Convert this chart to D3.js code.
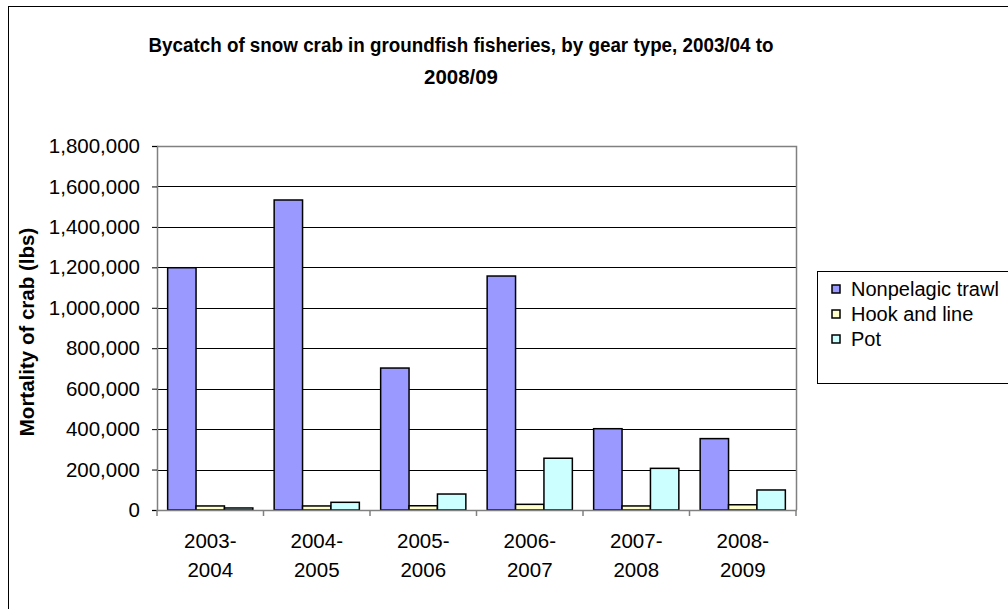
<!DOCTYPE html>
<html><head><meta charset="utf-8">
<script src="https://cdn.jsdelivr.net/npm/d3@7"></script>
<style>body{margin:0;background:#fff}svg{display:block;font-family:"Liberation Sans",Arial,sans-serif}</style>
</head><body><svg id="c" width="1008" height="609"></svg>
<script>
const categories = [["2003-","2004"],["2004-","2005"],["2005-","2006"],["2006-","2007"],["2007-","2008"],["2008-","2009"]];
const seriesNames = ["Nonpelagic trawl","Hook and line","Pot"];
const nonpelagic = [1198000,1533000,702000,1157000,402000,353000];
const hookLine = [20000,20000,21000,28000,20000,26000];
const pot = [10000,38000,79000,256000,206000,99000];
const yTicks = [0,200000,400000,600000,800000,1000000,1200000,1400000,1600000,1800000];
const colors = ["#9999FF","#FFFFCC","#CCFFFF"];

const svg = d3.select("#c");
const m={l:157,r:796,t:146,b:510};
svg.append("rect").attr("x",8.5).attr("y",6.5).attr("width",1010).attr("height",620).attr("fill","#fff").attr("stroke","#000").attr("stroke-width",1);

const x = d3.scaleBand().domain(d3.range(categories.length)).range([m.l,m.r]).paddingInner(0).paddingOuter(0);
const y = d3.scaleLinear().domain([0,1800000]).range([m.b,m.t]);
const inner = d3.scaleBand().domain(d3.range(3)).range([0,x.bandwidth()]).paddingOuter(0.375).paddingInner(0);

svg.append("g").selectAll("line").data(yTicks.slice(1,-1)).join("line")
  .attr("x1",m.l).attr("x2",m.r).attr("y1",d=>Math.round(y(d))+0.5).attr("y2",d=>Math.round(y(d))+0.5)
  .attr("stroke","#000").attr("stroke-width",1);
svg.append("path").attr("d",`M${m.l},${m.t+0.5}H${m.r+0.5}V${m.b}`).attr("fill","none").attr("stroke","#808080").attr("stroke-width",1.5);

const data = [nonpelagic,hookLine,pot];
const g = svg.append("g");
data.forEach((arr,si)=>{
  g.selectAll(null).data(arr).join("rect")
    .attr("x",(d,i)=>x(i)+inner(si))
    .attr("y",d=>y(d))
    .attr("width",inner.bandwidth())
    .attr("height",d=>m.b-y(d))
    .attr("fill",colors[si]).attr("stroke","#000").attr("stroke-width",1.5);
});

const ya = svg.append("g").attr("transform",`translate(${m.l},0)`)
  .call(d3.axisLeft(y).tickValues(yTicks).tickFormat(d3.format(",")).tickSizeOuter(0).tickSize(5).tickPadding(12));
ya.select(".domain").attr("stroke","#808080").attr("stroke-width",1.5);
ya.selectAll(".tick line").attr("stroke","#000");
ya.selectAll("text").attr("font-size",20.5).attr("fill","#000").attr("font-family","Liberation Sans, Arial");

const xa = svg.append("g").attr("transform",`translate(0,${m.b})`);
xa.append("line").attr("x1",m.l).attr("x2",m.r+0.75).attr("y1",0.5).attr("y2",0.5).attr("stroke","#808080").attr("stroke-width",1.5);
const edges = d3.range(categories.length+1).map(i=>m.l+i*x.step());
xa.selectAll(".tk").data(edges).join("line").attr("x1",d=>d).attr("x2",d=>d).attr("y1",0).attr("y2",6).attr("stroke","#808080").attr("stroke-width",1.5);
xa.selectAll(".lbl").data(categories).join("text")
  .attr("x",(d,i)=>x(i)+x.bandwidth()/2).attr("text-anchor","middle").attr("font-size",20.5)
  .each(function(d){
    const t=d3.select(this);
    t.append("tspan").attr("x",t.attr("x")).attr("y",38).text(d[0]);
    t.append("tspan").attr("x",t.attr("x")).attr("y",67).text(d[1]);
  });

svg.append("text").attr("transform","translate(34,332) rotate(-90)").attr("text-anchor","middle")
  .attr("font-size",20.5).attr("font-weight","bold").text("Mortality of crab (lbs)");

svg.append("text").attr("x",461).attr("y",52).attr("text-anchor","middle").attr("font-size",20).attr("font-weight","bold")
  .attr("textLength",625).attr("lengthAdjust","spacingAndGlyphs")
  .text("Bycatch of snow crab in groundfish fisheries, by gear type, 2003/04 to");
svg.append("text").attr("x",461).attr("y",84).attr("text-anchor","middle").attr("font-size",20).attr("font-weight","bold")
  .attr("textLength",74).attr("lengthAdjust","spacingAndGlyphs")
  .text("2008/09");

const lg = svg.append("g");
lg.append("rect").attr("x",817.5).attr("y",271.5).attr("width",250).attr("height",112).attr("fill","#fff").attr("stroke","#000").attr("stroke-width",1);
const rowsY=[289,314,339];
seriesNames.forEach((n,i)=>{
  lg.append("rect").attr("x",832).attr("y",rowsY[i]-4).attr("width",8).attr("height",8).attr("fill",colors[i]).attr("stroke","#000").attr("stroke-width",1.5);
  lg.append("text").attr("x",851).attr("y",rowsY[i]).attr("dy","0.36em").attr("font-size",20).text(n);
});
</script></body></html>
